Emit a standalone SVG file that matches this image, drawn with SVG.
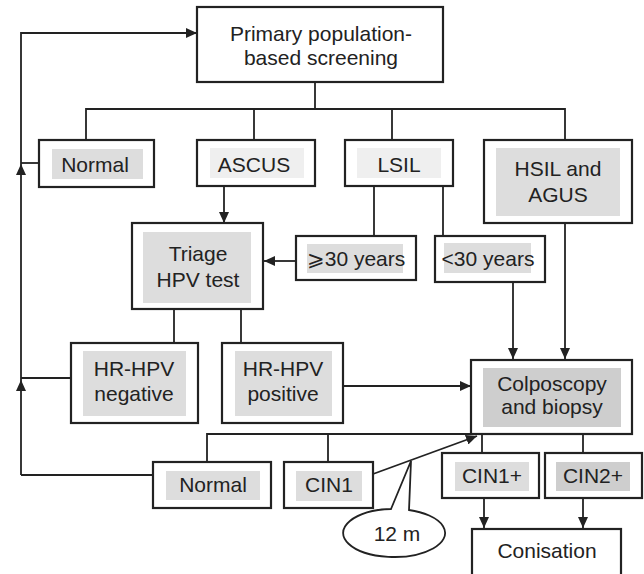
<svg xmlns="http://www.w3.org/2000/svg" width="644" height="574" viewBox="0 0 644 574">
<defs>
<style>
.box{fill:#fff;stroke:#222;stroke-width:2.2}
.g1{fill:#dddddd}
.g0{fill:#efefef}
.g2{fill:#cecece}
.t{font-family:"Liberation Sans",Arial,sans-serif;font-size:21px;fill:#222;text-anchor:middle}
.c{fill:none;stroke:#222;stroke-width:1.8}
</style>
<marker id="ah" viewBox="0 0 11 10" refX="11" refY="5" markerWidth="11" markerHeight="10" markerUnits="userSpaceOnUse" orient="auto">
<path d="M0,0 L11,5 L0,10 Z" fill="#222"/>
</marker>
</defs>
<rect width="644" height="574" fill="#fff"/>
<g id="connectors">
<path class="c" d="M21,475 L21,380" marker-end="url(#ah)"/>
<path class="c" d="M21,380 L21,164" marker-end="url(#ah)"/>
<path class="c" d="M21,164 L21,33 L197,33" marker-end="url(#ah)"/>
<path class="c" d="M39,163 L21,163"/>
<path class="c" d="M71,378 L21,378"/>
<path class="c" d="M153,475 L21,475"/>
<path class="c" d="M315,82 L315,109"/>
<path class="c" d="M86,140 L86,109 L565,109 L565,140"/>
<path class="c" d="M254,109 L254,140"/>
<path class="c" d="M392,109 L392,140"/>
<path class="c" d="M224,186 L224,223" marker-end="url(#ah)"/>
<path class="c" d="M374,186 L374,236"/>
<path class="c" d="M443,186 L443,236"/>
<path class="c" d="M296,261 L264,261" marker-end="url(#ah)"/>
<path class="c" d="M513,282 L513,359" marker-end="url(#ah)"/>
<path class="c" d="M565,223 L565,359" marker-end="url(#ah)"/>
<path class="c" d="M174,309 L174,343"/>
<path class="c" d="M241,309 L241,343"/>
<path class="c" d="M343,386 L471,386" marker-end="url(#ah)"/>
<path class="c" d="M471,434 L207,434 L207,462"/>
<path class="c" d="M328,434 L328,462"/>
<path class="c" d="M373,474 L477,436" marker-end="url(#ah)"/>
<path class="c" d="M482,434 L482,453"/>
<path class="c" d="M583,434 L583,453"/>
<path class="c" d="M484,498 L484,528" marker-end="url(#ah)"/>
<path class="c" d="M583,498 L583,528" marker-end="url(#ah)"/>
</g>
<g id="primary">
<rect class="box" x="197" y="7" width="246" height="75"/>
<text class="t" x="321" y="41">Primary population-</text>
<text class="t" x="321" y="65">based screening</text>
</g>
<g id="normal-top">
<rect class="box" x="39" y="140" width="115" height="47"/>
<rect class="g1" x="52" y="149" width="91" height="30"/>
<text class="t" x="95" y="172">Normal</text>
</g>
<g id="ascus">
<rect class="box" x="197" y="140" width="118" height="46"/>
<rect class="g0" x="210" y="148" width="94" height="30"/>
<text class="t" x="254" y="172">ASCUS</text>
</g>
<g id="lsil">
<rect class="box" x="345" y="140" width="108" height="46"/>
<rect class="g0" x="357" y="148" width="84" height="30"/>
<text class="t" x="399" y="172">LSIL</text>
</g>
<g id="hsil">
<rect class="box" x="484" y="140" width="148" height="83"/>
<rect class="g1" x="496" y="148" width="124" height="68"/>
<text class="t" x="558" y="176">HSIL and</text>
<text class="t" x="558" y="202">AGUS</text>
</g>
<g id="triage">
<rect class="box" x="132" y="223" width="131" height="86"/>
<rect class="g1" x="143" y="232" width="108" height="71"/>
<text class="t" x="198" y="261">Triage</text>
<text class="t" x="198" y="287">HPV test</text>
</g>
<g id="over30">
<rect class="box" x="296" y="236" width="120" height="44"/>
<rect class="g1" x="307" y="244" width="96" height="29"/>
<text class="t" x="356" y="266">⩾30 years</text>
</g>
<g id="under30">
<rect class="box" x="435" y="236" width="110" height="46"/>
<rect class="g1" x="444" y="243" width="87" height="30"/>
<text class="t" x="488" y="266">&lt;30 years</text>
</g>
<g id="hrhpv-neg">
<rect class="box" x="71" y="343" width="127" height="80"/>
<rect class="g1" x="83" y="351" width="103" height="65"/>
<text class="t" x="134" y="376">HR-HPV</text>
<text class="t" x="134" y="401">negative</text>
</g>
<g id="hrhpv-pos">
<rect class="box" x="222" y="343" width="121" height="80"/>
<rect class="g1" x="235" y="351" width="97" height="65"/>
<text class="t" x="283" y="376">HR-HPV</text>
<text class="t" x="283" y="401">positive</text>
</g>
<g id="colposcopy">
<rect class="box" x="471" y="360" width="161" height="74"/>
<rect class="g2" x="483" y="368" width="138" height="59"/>
<text class="t" x="552" y="391">Colposcopy</text>
<text class="t" x="552" y="414">and biopsy</text>
</g>
<g id="normal-bottom">
<rect class="box" x="153" y="462" width="118" height="46"/>
<rect class="g1" x="166" y="471" width="94" height="29"/>
<text class="t" x="213" y="492">Normal</text>
</g>
<g id="cin1">
<rect class="box" x="284" y="462" width="89" height="46"/>
<rect class="g1" x="296" y="471" width="66" height="30"/>
<text class="t" x="329" y="492">CIN1</text>
</g>
<g id="callout">
<path d="M391,509 L411,461 L409,510 A51,24 0 1 1 391,509 Z" fill="#fff" stroke="#222" stroke-width="1.8" stroke-linejoin="miter"/>
<text class="t" x="397" y="541">12 m</text>
</g>
<g id="cin1plus">
<rect class="box" x="442" y="453" width="97" height="45"/>
<rect class="g1" x="455" y="462" width="74" height="29"/>
<text class="t" x="492" y="483">CIN1+</text>
</g>
<g id="cin2plus">
<rect class="box" x="545" y="453" width="97" height="45"/>
<rect class="g2" x="556" y="462" width="74" height="29"/>
<text class="t" x="593" y="483">CIN2+</text>
</g>
<g id="conisation">
<rect class="box" x="472" y="529" width="149" height="55"/>
<text class="t" x="547" y="558">Conisation</text>
</g>
</svg>
